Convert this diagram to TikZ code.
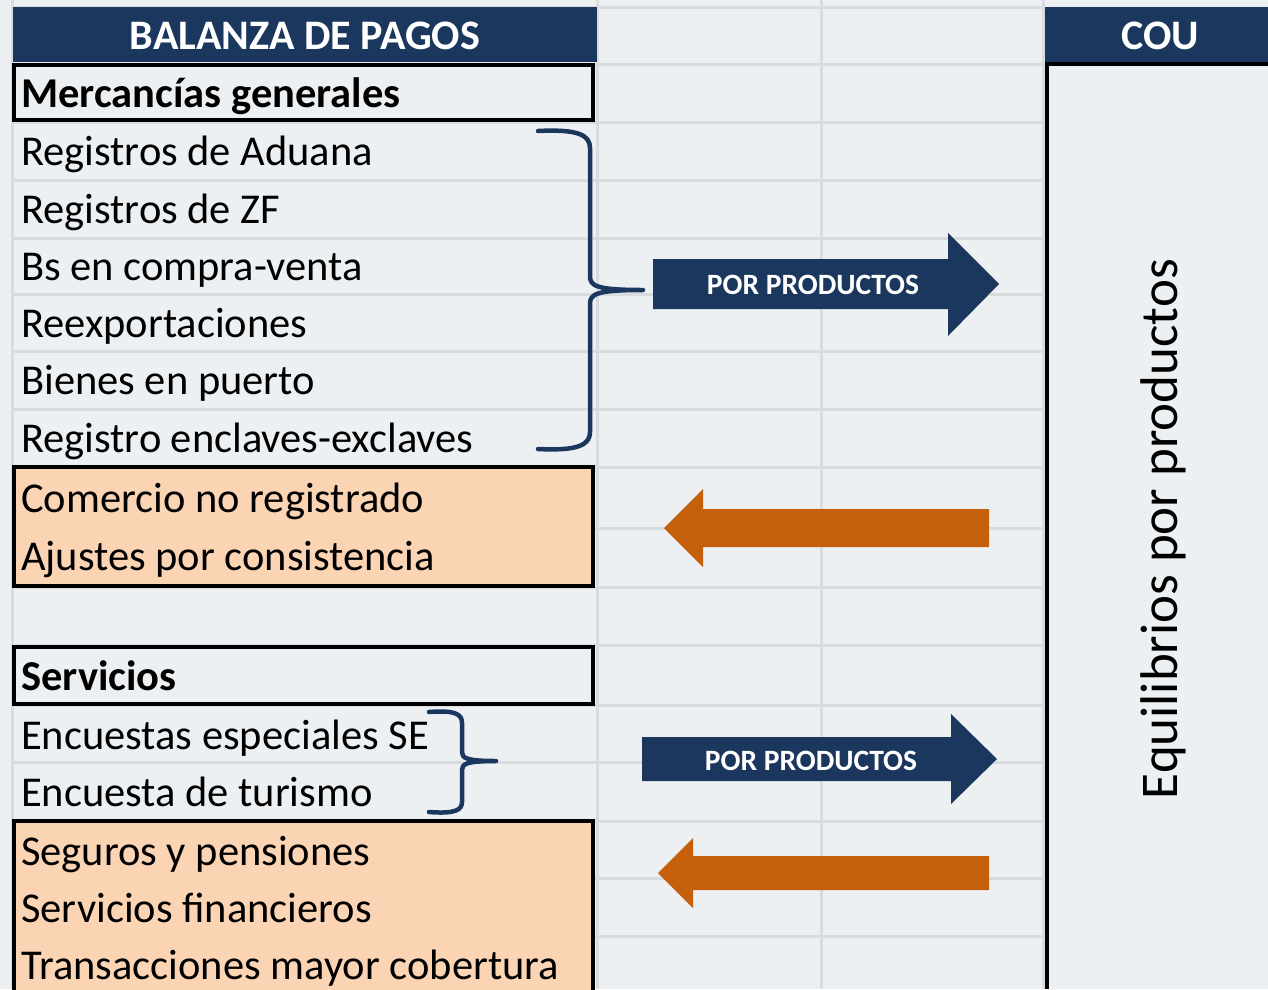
\documentclass[tikz,border=0pt]{standalone}
\usepackage{fontspec}
\setmainfont{Carlito}
\definecolor{bgc}{HTML}{EDF0F3}
\definecolor{gridc}{HTML}{D9DCDF}
\definecolor{navy}{HTML}{1B375E}
\definecolor{orng}{HTML}{C65F0B}
\definecolor{peach}{HTML}{FBD4B4}
\tikzset{
  gridline/.style={draw=gridc, line width=3pt},
  boxline/.style={draw=black, line width=4pt},
  body/.style={inner sep=0pt, anchor=base west, font=\fontsize{42.5}{50}\selectfont},
  bodybold/.style={body, font=\fontsize{42.5}{50}\selectfont\bfseries},
  hdrtext/.style={inner sep=0pt, anchor=base, text=white, font=\fontsize{42}{48}\selectfont\bfseries},
  arrowtext/.style={inner sep=0pt, anchor=base, text=white, font=\fontsize{29.5}{34}\selectfont\bfseries},
  bracestyle/.style={draw=navy, line width=4.5pt, line cap=round, line join=round},
}
\begin{document}
\begin{tikzpicture}[x=1pt,y=-1pt]
\useasboundingbox (0,0) rectangle (1268,989);
% background
\fill[bgc] (0,0) rectangle (1268,989);
% grid
\foreach \yy in {7,64,122,180,238,294,351,409,467,528,587,645,705,762,821,878,936}
  \draw[gridline] (12,\yy) -- (1043,\yy);
\foreach \xx in {12,597,821,1043}
  \draw[gridline] (\xx,0) -- (\xx,989);
% headers
\fill[navy] (13,7) rectangle (597,62);
\node[hdrtext] (hbp) at (305,49) {BALANZA DE PAGOS};
\fill[navy] (1045,7) rectangle (1268,62);
\node[hdrtext] (hcou) at (1160,49) {COU};
% COU column border
\draw[boxline] (1047,989) -- (1047,64) -- (1268,64);
% boxes
\draw[boxline] (14,65) rectangle (593,120);
\fill[peach] (14,467) rectangle (593,586);
\draw[boxline] (14,467) rectangle (593,586);
\draw[boxline] (14,647) rectangle (593,704);
\fill[peach] (14,821) rectangle (593,1000);
\draw[boxline] (14,821) rectangle (593,1000);
% texts
\node[bodybold] (mg) at (21,107) {Mercancías generales};
\node[body] (t1) at (21,165) {Registros de Aduana};
\node[body] (t2) at (21,223) {Registros de ZF};
\node[body] (t3) at (21,280) {Bs en compra-venta};
\node[body] (t4) at (21,337) {Reexportaciones};
\node[body] (t5) at (21,394) {Bienes en puerto};
\node[body] (t6) at (21,452) {Registro enclaves-exclaves};
\node[body] (t7) at (21,512) {Comercio no registrado};
\node[body] (t8) at (21,570) {Ajustes por consistencia};
\node[bodybold] (sv) at (21,690) {Servicios};
\node[body] (s1) at (21,749) {Encuestas especiales SE};
\node[body] (s2) at (21,806) {Encuesta de turismo};
\node[body] (s3) at (21,865) {Seguros y pensiones};
\node[body] (s4) at (21,922) {Servicios financieros};
\node[body] (s5) at (21,979) {Transacciones mayor cobertura};
\node[inner sep=0pt, anchor=base, rotate=90, font=\fontsize{53}{60}\selectfont] (eq) at (1177,529) {Equilibrios por productos};
% braces
\draw[bracestyle] (538,131) .. controls (578,129) and (590,135) .. (590,148) -- (590,276)
  .. controls (590,286) and (596,290) .. (643,290)
  .. controls (596,290) and (590,294) .. (590,304) -- (590,432)
  .. controls (590,445) and (578,451) .. (538,449);
\draw[bracestyle] (429,712) .. controls (455,710) and (462,714) .. (462,723) -- (462,752)
  .. controls (462,758) and (466,761) .. (496,761)
  .. controls (466,761) and (462,764) .. (462,770) -- (462,802)
  .. controls (462,810) and (455,814) .. (429,812);
% blue arrows
\fill[navy] (653,259) -- (948,259) -- (948,233) -- (999,284) -- (948,336) -- (948,309) -- (653,309) -- cycle;
\node[arrowtext] (pp1) at (813,294) {POR PRODUCTOS};
\fill[navy] (642,737) -- (951,737) -- (951,714) -- (997,759) -- (951,804) -- (951,781) -- (642,781) -- cycle;
\node[arrowtext] (pp2) at (811,770) {POR PRODUCTOS};
% orange arrows
\fill[orng] (989,509) -- (703,509) -- (703,489) -- (664,528) -- (703,567) -- (703,547) -- (989,547) -- cycle;
\fill[orng] (989,856) -- (693,856) -- (693,838) -- (658,873) -- (693,908) -- (693,890) -- (989,890) -- cycle;
\end{tikzpicture}
\end{document}
